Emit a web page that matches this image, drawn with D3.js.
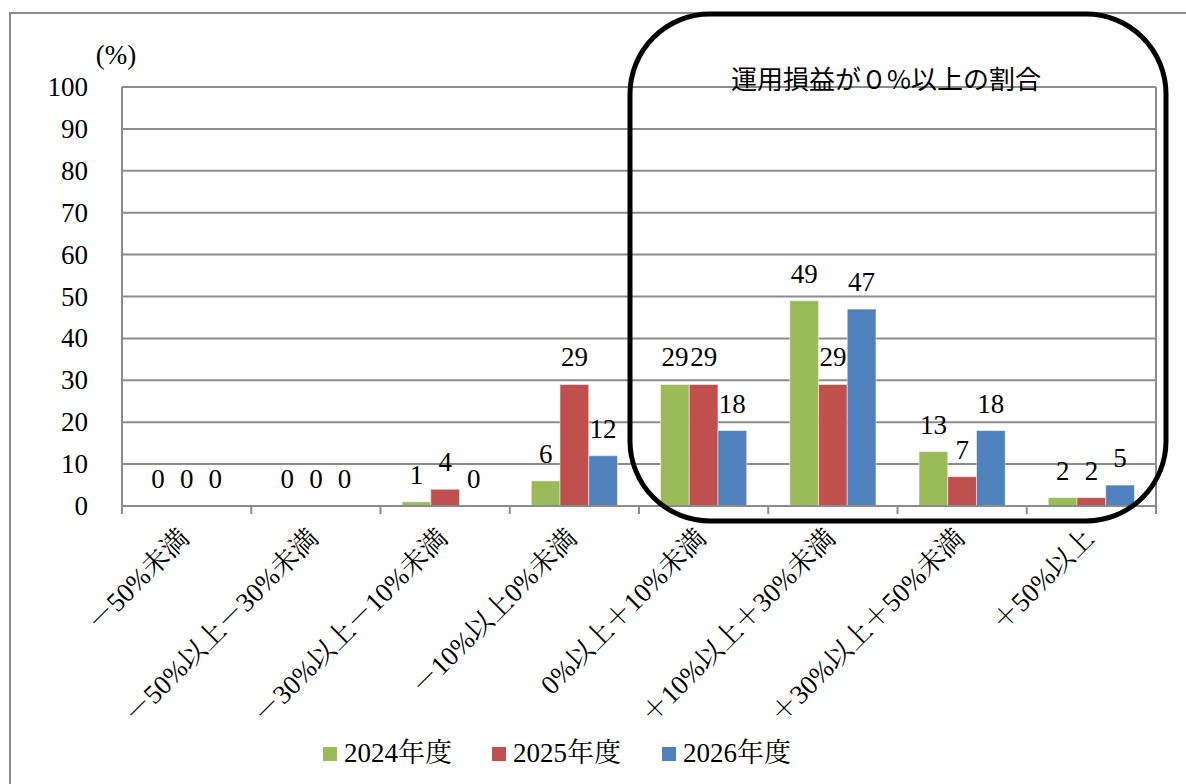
<!DOCTYPE html>
<html>
<head>
<meta charset="utf-8">
<script src="https://cdn.jsdelivr.net/npm/d3@7"></script>
<style>
  body { margin: 0; background: #fff; }
</style>
</head>
<body>
<div class="center"></div>
<script>
// data
const categories = ["－50%未満", "－50%以上－30%未満", "－30%以上－10%未満", "－10%以上0%未満",
                    "0%以上＋10%未満", "＋10%以上＋30%未満", "＋30%以上＋50%未満", "＋50%以上"];
const seriesNames = ["2024年度", "2025年度", "2026年度"];
const values2024 = [0, 0, 1, 6, 29, 49, 13, 2];
const values2025 = [0, 0, 4, 29, 29, 29, 7, 2];
const values2026 = [0, 0, 0, 12, 18, 47, 18, 5];
const yTicks = [0, 10, 20, 30, 40, 50, 60, 70, 80, 90, 100];
const colors = ["#9BBB59", "#C0504D", "#4F81BD"];
const boxTitle = "運用損益が０%以上の割合";

const W = 1186, H = 784;
const plot = {left: 122, right: 1156, top: 87, bottom: 506};

// latin runs in a serif face, japanese runs in a mincho-like face
function mixedText(sel, str) {
  const runs = str.match(/[\u3000-\u9fff\uff00-\uffef]+|[^\u3000-\u9fff\uff00-\uffef]+/g) || [];
  runs.forEach(r => {
    const cjk = /[\u3000-\u9fff\uff00-\uffef]/.test(r);
    sel.append("tspan")
      .style("font-family", cjk ? '"Noto Serif CJK JP"' : '"Liberation Serif"')
      .text(r);
  });
}

const svg = d3.select(".center").append("svg")
  .attr("width", W).attr("height", H);

// chart frame
svg.append("path")
  .attr("d", `M10,${H} L10,13 L${W},13`)
  .attr("fill", "none").attr("stroke", "#8c8c8c").attr("stroke-width", 2);

const xScale = d3.scaleBand().domain(d3.range(categories.length))
  .range([plot.left, plot.right]);
const yScale = d3.scaleLinear().domain([0, 100]).range([plot.bottom, plot.top]);
// gap width 150% -> 0.75 bar each side
const innerScale = d3.scaleBand().domain(d3.range(seriesNames.length))
  .range([xScale.bandwidth() * 0.75 / 4.5, xScale.bandwidth() * 3.75 / 4.5]);

// gridlines
svg.append("g").selectAll("line").data(yTicks.filter(d => d > 0)).enter().append("line")
  .attr("x1", plot.left).attr("x2", plot.right)
  .attr("y1", d => yScale(d)).attr("y2", d => yScale(d))
  .attr("stroke", "#8c8c8c").attr("stroke-width", 2);

// plot sides
[plot.left, plot.right].forEach(x => {
  svg.append("line").attr("x1", x).attr("x2", x)
    .attr("y1", plot.top).attr("y2", plot.bottom + 8)
    .attr("stroke", "#8c8c8c").attr("stroke-width", 2);
});

// y axis labels
svg.append("g").selectAll("text").data(yTicks).enter().append("text")
  .attr("x", 88).attr("y", d => yScale(d) + 9)
  .attr("text-anchor", "end").style("font-family", '"Liberation Serif"').style("font-size", "27px")
  .text(d => d);
svg.append("text").attr("x", 116).attr("y", 64).attr("text-anchor", "middle")
  .style("font-family", '"Liberation Serif"').style("font-size", "27px").text("(%)");

// bars
const allSeries = [values2024, values2025, values2026];
allSeries.forEach((vals, s) => {
  const g = svg.append("g");
  g.selectAll("rect").data(vals).enter().append("rect")
    .attr("x", (d, i) => xScale(i) + innerScale(s))
    .attr("y", d => yScale(d))
    .attr("width", innerScale.bandwidth())
    .attr("height", d => plot.bottom - yScale(d))
    .attr("fill", colors[s])
    .attr("stroke", "#ffffff").attr("stroke-opacity", 0.5).attr("stroke-width", 1);
  g.selectAll("text").data(vals).enter().append("text")
    .attr("x", (d, i) => xScale(i) + innerScale(s) + innerScale.bandwidth() / 2)
    .attr("y", d => yScale(d) - 18)
    .attr("text-anchor", "middle").style("font-family", '"Liberation Serif"').style("font-size", "27px")
    .text(d => d);
});

// x axis line and ticks
svg.append("line").attr("x1", plot.left).attr("x2", plot.right)
  .attr("y1", plot.bottom).attr("y2", plot.bottom)
  .attr("stroke", "#8c8c8c").attr("stroke-width", 2);
svg.append("g").selectAll("line").data(d3.range(categories.length + 1)).enter().append("line")
  .attr("x1", d => plot.left + d * xScale.bandwidth()).attr("x2", d => plot.left + d * xScale.bandwidth())
  .attr("y1", plot.bottom).attr("y2", plot.bottom + 8)
  .attr("stroke", "#8c8c8c").attr("stroke-width", 2);

// x labels rotated
svg.append("g").selectAll("text").data(categories).enter().append("text")
  .attr("transform", (d, i) => `translate(${xScale(i) + xScale.bandwidth() / 2 + 4},${plot.bottom + 34}) rotate(-45)`)
  .attr("text-anchor", "end").style("font-size", "27px")
  .each(function(d) { mixedText(d3.select(this), d); });

// rounded highlight box
svg.append("rect")
  .attr("x", 630).attr("y", 14).attr("width", 536).attr("height", 507)
  .attr("rx", 80).attr("ry", 80)
  .attr("fill", "none").attr("stroke", "#000").attr("stroke-width", 5);
svg.append("text").attr("x", 886).attr("y", 89).attr("text-anchor", "middle")
  .style("font-family", '"Noto Sans CJK JP"').style("font-size", "26px")
  .text(boxTitle);

// legend
const legendX = [323, 492, 662];
seriesNames.forEach((name, s) => {
  svg.append("rect").attr("x", legendX[s]).attr("y", 747).attr("width", 14).attr("height", 14)
    .attr("fill", colors[s]);
  svg.append("text").attr("x", legendX[s] + 21).attr("y", 762)
    .style("font-size", "27px")
    .call(t => mixedText(t, name));
});
</script>
</body>
</html>
